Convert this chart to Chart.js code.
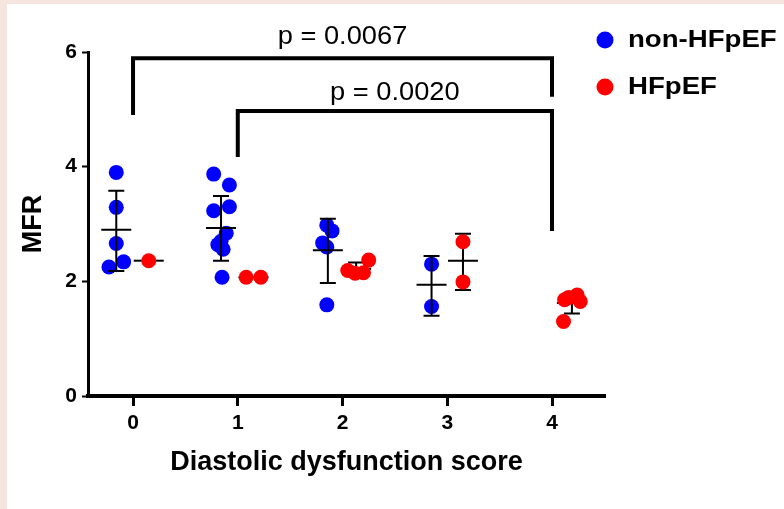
<!DOCTYPE html>
<html>
<head>
<meta charset="utf-8">
<script src="https://cdn.jsdelivr.net/npm/chart.js@4.4.1/dist/chart.umd.min.js"></script>
<style>
    html, body { margin: 0; padding: 0; background: #f6e4df; }
    #wrap { width: 784px; height: 509px; }
</style>
</head>
<body>
<div id="wrap"><canvas id="mfrChart" width="784" height="509"></canvas></div>
<script>
// MFR by diastolic dysfunction score
const scoreTicks = [0, 1, 2, 3, 4];
const mfrTicks = [0, 2, 4, 6];

// individual points, x = score with the jitter seen in the figure
const nonX = [-0.16, -0.16, -0.16, -0.09, -0.23, 0.77, 0.92, 0.77, 0.92, 0.89, 0.81, 0.86, 0.84, 0.85,
              1.85, 1.90, 1.81, 1.85, 1.85, 2.85, 2.85];
const nonY = [3.90, 3.29, 2.66, 2.34, 2.25, 3.87, 3.68, 3.23, 3.30, 2.84, 2.64, 2.56, 2.70, 2.07,
              2.98, 2.88, 2.67, 2.60, 1.59, 2.30, 1.56];
const hfX = [0.15, 1.08, 1.22, 2.05, 2.12, 2.20, 2.25, 3.15, 3.15, 4.11, 4.16, 4.24, 4.27, 4.12];
const hfY = [2.36, 2.07, 2.07, 2.19, 2.14, 2.15, 2.37, 2.69, 1.99, 1.30, 1.72, 1.76, 1.65, 1.68];

// mean and SD bars
const nonMeanX = [-0.16, 0.84, 1.86, 2.85];
const nonMean = [2.90, 2.93, 2.54, 1.94];
const nonUpper = [3.58, 3.49, 3.09, 2.44];
const nonLower = [2.18, 2.36, 1.97, 1.40];
const hfMeanX = [0.15, 1.15, 2.13, 3.15, 4.19];
const hfMean = [2.36, 2.07, 2.22, 2.36, 1.62];
const hfUpper = [null, null, 2.33, 2.83, 1.80];
const hfLower = [null, null, 2.11, 1.85, 1.44];

// significance brackets
const brFrom = [0, 1];
const brTo = [4, 4];
const brTop = [5.89, 4.97];
const brFromEnd = [4.90, 4.17];
const brToEnd = [5.22, 2.88];
const brLabelY = [6.26, 5.28];
const brLabels = ['p = 0.0067', 'p = 0.0020'];

const seriesNames = ['non-HFpEF', 'HFpEF'];
const BLUE = '#0000ff';
const RED = '#ff0000';

const FONT = '"Liberation Sans", Arial, sans-serif';

function toPoints(xs, ys) {
    return xs.map((x, i) => ({ x, y: ys[i] }));
}

function wideText(ctx, text, x, y, sx, align) {
    ctx.save();
    ctx.translate(x, y);
    ctx.scale(sx, 1);
    ctx.textAlign = align;
    ctx.textBaseline = 'middle';
    ctx.fillText(text, 0, 0);
    ctx.restore();
}

function drawBars(chart, xs, means, uppers, lowers) {
    const { ctx, scales: { x, y } } = chart;
    ctx.save();
    ctx.strokeStyle = '#000';
    ctx.lineWidth = 2;
    xs.forEach((v, i) => {
        const px = x.getPixelForValue(v);
        const pm = y.getPixelForValue(means[i]);
        ctx.beginPath();
        ctx.moveTo(px - 15, pm);
        ctx.lineTo(px + 15, pm);
        if (uppers[i] != null) {
            const pu = y.getPixelForValue(uppers[i]);
            const pl = y.getPixelForValue(lowers[i]);
            ctx.moveTo(px, pu);
            ctx.lineTo(px, pl);
            ctx.moveTo(px - 8, pu);
            ctx.lineTo(px + 8, pu);
            ctx.moveTo(px - 8, pl);
            ctx.lineTo(px + 8, pl);
        }
        ctx.stroke();
    });
    ctx.restore();
}

const panelPlugin = {
    id: 'panel',
    beforeDraw(chart) {
        const ctx = chart.ctx;
        ctx.save();
        ctx.fillStyle = '#f6e4df';
        ctx.fillRect(0, 0, chart.width, chart.height);
        ctx.fillStyle = '#ffffff';
        ctx.fillRect(7, 4, chart.width - 7, chart.height - 4);
        ctx.restore();
    }
};

// bars sit above the blue points but under the red ones, as in the figure
const barsPlugin = {
    id: 'bars',
    afterDatasetDraw(chart, args) {
        if (args.index !== 0) return;
        drawBars(chart, nonMeanX, nonMean, nonUpper, nonLower);
        drawBars(chart, hfMeanX, hfMean, hfUpper, hfLower);
    }
};

const extrasPlugin = {
    id: 'extras',
    afterDraw(chart) {
        const { ctx, scales: { x, y } } = chart;
        ctx.save();
        ctx.strokeStyle = '#000';
        ctx.lineWidth = 4;
        ctx.lineCap = 'butt';
        ctx.lineJoin = 'miter';
        ctx.fillStyle = '#000';
        ctx.font = '25px ' + FONT;
        brFrom.forEach((f, i) => {
            const x1 = x.getPixelForValue(f);
            const x2 = x.getPixelForValue(brTo[i]);
            const yt = y.getPixelForValue(brTop[i]);
            ctx.beginPath();
            ctx.moveTo(x1, y.getPixelForValue(brFromEnd[i]));
            ctx.lineTo(x1, yt);
            ctx.lineTo(x2, yt);
            ctx.lineTo(x2, y.getPixelForValue(brToEnd[i]));
            ctx.stroke();
            wideText(ctx, brLabels[i], (x1 + x2) / 2, y.getPixelForValue(brLabelY[i]), 1.09, 'center');
        });

        // legend
        const colors = [BLUE, RED];
        ctx.font = 'bold 23px ' + FONT;
        seriesNames.forEach((name, i) => {
            const ly = 40 + i * 47;
            ctx.fillStyle = colors[i];
            ctx.beginPath();
            ctx.arc(605, ly, 8.5, 0, Math.PI * 2);
            ctx.fill();
            ctx.fillStyle = '#000';
            wideText(ctx, name, 628, ly + 1, 1.2, 'left');
        });
        ctx.restore();
    }
};

const ctx = document.getElementById('mfrChart').getContext('2d');
new Chart(ctx, {
    type: 'scatter',
    data: {
        datasets: [
            {
                label: seriesNames[0],
                data: toPoints(nonX, nonY),
                backgroundColor: BLUE,
                borderWidth: 0,
                pointRadius: 7.5,
                order: 1,
            },
            {
                label: seriesNames[1],
                data: toPoints(hfX, hfY),
                backgroundColor: RED,
                borderWidth: 0,
                pointRadius: 7.5,
                order: 0,
            }
        ]
    },
    options: {
        responsive: false,
        animation: false,
        devicePixelRatio: 1,
        layout: { padding: { top: 52, right: 179, left: 0, bottom: 0 } },
        plugins: {
            legend: { display: false },
            tooltip: { enabled: false }
        },
        scales: {
            x: {
                type: 'linear',
                min: -0.43,
                max: 4.506,
                afterBuildTicks: axis => { axis.ticks = scoreTicks.map(v => ({ value: v })); },
                afterFit: axis => { axis.height = 113; },
                grid: { display: true, drawOnChartArea: false, drawTicks: true, tickLength: 10, tickWidth: 3, color: '#000' },
                border: { display: true, width: 4, color: '#000' },
                ticks: {
                    color: '#000',
                    padding: 5,
                    font: { family: FONT, size: 21, weight: 'bold' },
                    callback: v => String(v)
                },
                title: {
                    display: true,
                    text: 'Diastolic dysfunction score',
                    color: '#000',
                    font: { family: FONT, size: 27, weight: 'bold' },
                    padding: { top: 0, bottom: 30 }
                }
            },
            y: {
                min: 0,
                max: 6,
                afterBuildTicks: axis => { axis.ticks = mfrTicks.map(v => ({ value: v })); },
                afterFit: axis => { axis.width = 88; },
                grid: { display: true, drawOnChartArea: false, drawTicks: true, tickLength: 6, tickWidth: 2, color: '#000' },
                border: { display: true, width: 3, color: '#000' },
                ticks: {
                    color: '#000',
                    padding: 5,
                    font: { family: FONT, size: 21, weight: 'bold' },
                    callback: v => String(v)
                },
                title: {
                    display: true,
                    text: 'MFR',
                    color: '#000',
                    font: { family: FONT, size: 27, weight: 'bold' },
                    padding: { top: 17, bottom: 0 }
                }
            }
        }
    },
    plugins: [panelPlugin, barsPlugin, extrasPlugin]
});
</script>
</body>
</html>
